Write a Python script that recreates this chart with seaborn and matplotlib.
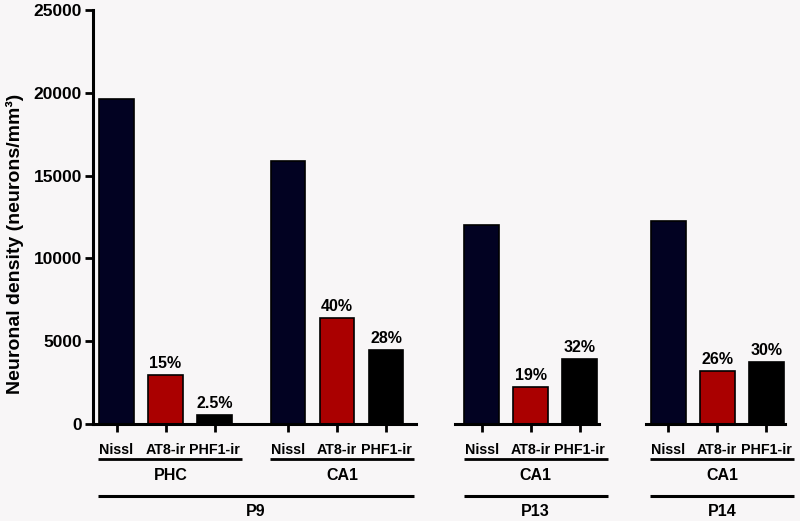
import numpy as np
import pandas as pd
import matplotlib.pyplot as plt
import seaborn as sns

# -----------------------------
# DATA
# -----------------------------
stains = ["Nissl", "AT8-ir", "PHF1-ir"]
regions = ["PHC", "CA1", "CA1", "CA1"]
ages = ["P9", "P9", "P13", "P14"]
nissl = [19600, 15880, 12020, 12260]
at8 = [2960, 6420, 2250, 3220]
phf1 = [540, 4470, 3900, 3740]
at8_pct = ["15%", "40%", "19%", "26%"]
phf1_pct = ["2.5%", "28%", "32%", "30%"]
age_order = ["P9", "P13", "P14"]

colors = {"Nissl": "#020222", "AT8-ir": "#aa0000", "PHF1-ir": "#000000"}
BG = "#f8f6f7"

rows = []
for g in range(len(regions)):
    for s, vals, pct in zip(stains, [nissl, at8, phf1], [None, at8_pct, phf1_pct]):
        rows.append({"group": g, "region": regions[g], "age": ages[g], "stain": s,
                     "density": vals[g], "pct": "" if pct is None else pct[g]})
df = pd.DataFrame(rows)

# -----------------------------
# STYLE
# -----------------------------
sns.set_theme(style="ticks")
plt.rcParams["font.family"] = ["Liberation Sans", "DejaVu Sans"]
plt.rcParams["font.weight"] = "bold"
plt.rcParams["text.color"] = "black"
plt.rcParams["axes.edgecolor"] = "black"
plt.rcParams["xtick.color"] = "black"
plt.rcParams["ytick.color"] = "black"

fig = plt.figure(figsize=(8, 5.21), dpi=100)
fig.patch.set_facecolor(BG)

W, H = 800, 521
y0, ytop = 424, 10
bottom = (H - y0) / H
height = (y0 - ytop) / H
slot = 49.0

# panel pixel extents and left xlim
panel_px = {"P9": (93, 415.7, -0.48), "P13": (455, 599, -0.545), "P14": (645.7, 785, -0.46)}

def to_ax_y(py):
    return (y0 - py) / (y0 - ytop)

for age in age_order:
    x_left, x_right, xmin = panel_px[age]
    ax = fig.add_axes([x_left / W, bottom, (x_right - x_left) / W, height])
    ax.set_facecolor(BG)
    sub = df[df["age"] == age].copy()
    groups = sorted(sub["group"].unique())
    sub["pos"] = [groups.index(g) * 3.5 + stains.index(s) for g, s in zip(sub["group"], sub["stain"])]

    sns.barplot(data=sub, x="pos", y="density", hue="stain", palette=colors,
                hue_order=stains, native_scale=True, dodge=False, width=0.71,
                saturation=1, edgecolor="black", linewidth=1.2, errorbar=None,
                legend=False, ax=ax)

    xmax = xmin + (x_right - x_left) / slot
    ax.set_xlim(xmin, xmax)
    ax.set_ylim(0, 25000)
    ax.set_xticks(sub["pos"])
    ax.set_xticklabels(sub["stain"], fontsize=10.3, fontweight="bold")
    ax.set_xlabel("")
    ax.set_ylabel("")

    # percentage labels
    for _, r in sub.iterrows():
        if r["pct"]:
            ax.annotate(r["pct"], (r["pos"], r["density"]), xytext=(0, 3),
                        textcoords="offset points", ha="center", va="bottom",
                        fontsize=11.5, fontweight="bold")

    # region underline + label
    xt = ax.get_xaxis_transform()
    for j, g in enumerate(groups):
        a = j * 3.5 - 0.37
        b = j * 3.5 + 2 + 0.57
        ax.plot([a, b], [to_ax_y(459)] * 2, color="black", lw=2, transform=xt,
                clip_on=False, solid_capstyle="butt")
        ax.text((a + b) / 2, to_ax_y(475), regions[g], transform=xt, ha="center",
                va="center", fontsize=11.5, fontweight="bold")
    # age underline + label
    a = -0.37
    b = (len(groups) - 1) * 3.5 + 2 + 0.57
    ax.plot([a, b], [to_ax_y(495.7)] * 2, color="black", lw=2.2, transform=xt,
            clip_on=False, solid_capstyle="butt")
    ax.text((a + b) / 2, to_ax_y(512), age, transform=xt, ha="center",
            va="center", fontsize=11.5, fontweight="bold")

    sns.despine(ax=ax)
    ax.spines["bottom"].set_linewidth(2.2)
    ax.tick_params(axis="x", length=6, width=2, pad=8)
    if age == "P9":
        ax.set_yticks(np.arange(0, 25001, 5000))
        ax.set_yticklabels([str(v) for v in range(0, 25001, 5000)],
                           fontsize=12.5, fontweight="bold")
        ax.spines["left"].set_linewidth(2.2)
        ax.tick_params(axis="y", length=6, width=2, pad=2)
    else:
        ax.spines["left"].set_visible(False)
        ax.set_yticks([])

fig.text(15 / W, 1 - 244 / H, "Neuronal density (neurons/mm³)", rotation=90,
         ha="center", va="center", fontsize=14, fontweight="bold")

fig.savefig("out.png", dpi=100, facecolor=BG)
